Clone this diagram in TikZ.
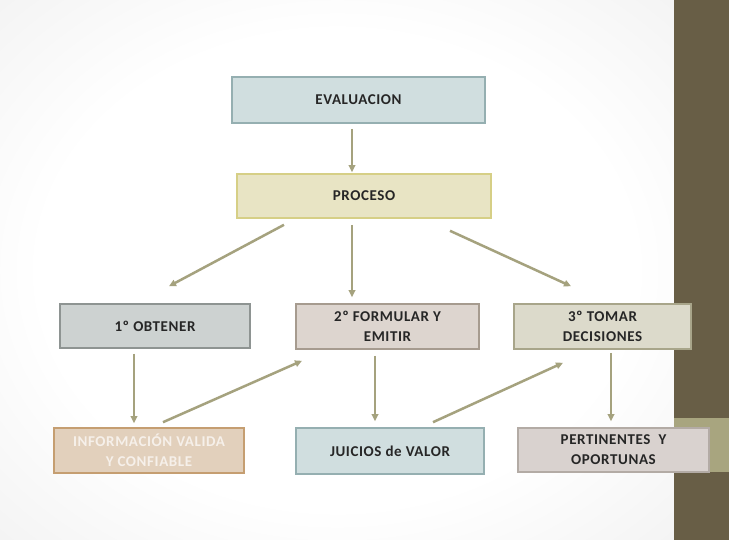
\documentclass[tikz,border=0pt]{standalone}
\usepackage{fontspec}
\setmainfont{Carlito}[LetterSpace=4]
\usetikzlibrary{arrows.meta}

\definecolor{banda}{HTML}{685E46}
\definecolor{bandaclara}{HTML}{A8A57F}
\definecolor{flechacolor}{HTML}{A5A27E}
\definecolor{texto}{HTML}{262626}
\definecolor{azulfill}{HTML}{D0DEDF}
\definecolor{azulborde}{HTML}{95AFB1}
\definecolor{amarillofill}{HTML}{E8E4C4}
\definecolor{amarilloborde}{HTML}{D6CF86}
\definecolor{grisfill}{HTML}{CDD2D1}
\definecolor{grisborde}{HTML}{8E9492}
\definecolor{rosafill}{HTML}{DDD5CF}
\definecolor{rosaborde}{HTML}{A69B8F}
\definecolor{olivafill}{HTML}{DCDACB}
\definecolor{olivaborde}{HTML}{A8A58A}
\definecolor{naranjafill}{HTML}{E2D0BC}
\definecolor{naranjaborde}{HTML}{C59E71}
\definecolor{naranjatexto}{HTML}{F6F0EA}
\definecolor{malvafill}{HTML}{D9D2CF}
\definecolor{malvaborde}{HTML}{B3ABA5}

\pgfdeclareradialshading{fondo}{\pgfpoint{0bp}{0bp}}{color(0bp)=(white); color(22bp)=(white); color(71bp)=(black!16)}

\tikzset{
	caja/.style={draw, line width=1.6pt, minimum width=#1, inner sep=0pt, align=center,
		text=texto, font=\fontsize{15}{20}\selectfont\bfseries},
	flecha/.style={line width=2.5pt, draw=flechacolor, -{Triangle[length=7pt, width=6.5pt]}}
}

\begin{document}
\begin{tikzpicture}[x=1pt, y=-1pt]

				\useasboundingbox (0,0) rectangle (729,540);
				\shade[shading=fondo] (0,0) rectangle (674,540);
				\fill[banda] (674,0) rectangle (729,540);
				\fill[bandaclara] (674,418) rectangle (729,472);

				\node[caja=253pt, minimum height=46pt, fill=azulfill, draw=azulborde] (evaluacion) at (358.5,100) {EVALUACION};
				\node[caja=254pt, minimum height=44pt, fill=amarillofill, draw=amarilloborde] (proceso) at (364,196) {PROCESO};

				\node[caja=190pt, minimum height=44pt, fill=grisfill, draw=grisborde] (obtener) at (155,326) {1º OBTENER};
				\node[caja=183pt, minimum height=45pt, fill=rosafill, draw=rosaborde] (formular) at (387.5,326.5) {2º FORMULAR Y\\EMITIR};
				\node[caja=177pt, minimum height=45pt, fill=olivafill, draw=olivaborde] (tomar) at (602.5,326.5) {3º TOMAR\\DECISIONES};

				\node[caja=190pt, minimum height=45pt, fill=naranjafill, draw=naranjaborde, text=naranjatexto] (informacion) at (149,450.5) {INFORMACIÓN VALIDA\\Y CONFIABLE};
				\node[caja=188pt, minimum height=46pt, fill=azulfill, draw=azulborde] (juicios) at (390,451) {JUICIOS de VALOR};
				\node[caja=191pt, minimum height=44pt, fill=malvafill, draw=malvaborde] (pertinentes) at (613.5,450) {PERTINENTES\ \ Y\\OPORTUNAS};

				\draw[flecha] ([xshift=-6.5pt, yshift=-5pt]evaluacion.south) -- ([xshift=-12pt, yshift=1pt]proceso.north);

				\draw[flecha] ([xshift=-80pt, yshift=-6pt]proceso.south) -- ([xshift=14pt, yshift=17pt]obtener.north);
				\draw[flecha] ([xshift=-12pt, yshift=-6pt]proceso.south) -- ([xshift=-35.5pt, yshift=6pt]formular.north);
				\draw[flecha] ([xshift=86pt, yshift=-12pt]proceso.south) -- ([xshift=-31.5pt, yshift=17pt]tomar.north);

				\draw[flecha] ([xshift=-21pt, yshift=-5pt]obtener.south) -- ([xshift=-15pt, yshift=4pt]informacion.north);
				\draw[flecha] ([xshift=14pt, yshift=5pt]informacion.north) -- ([xshift=-85.5pt, yshift=-11pt]formular.south);
				\draw[flecha] ([xshift=-12.5pt, yshift=-6pt]formular.south) -- ([xshift=-15pt, yshift=6pt]juicios.north);
				\draw[flecha] ([xshift=43pt, yshift=5pt]juicios.north) -- ([xshift=-39.5pt, yshift=-13pt]tomar.south);
				\draw[flecha] ([xshift=8.5pt, yshift=-3pt]tomar.south) -- ([xshift=-2.5pt, yshift=6pt]pertinentes.north);

			\end{tikzpicture}
\end{document}
